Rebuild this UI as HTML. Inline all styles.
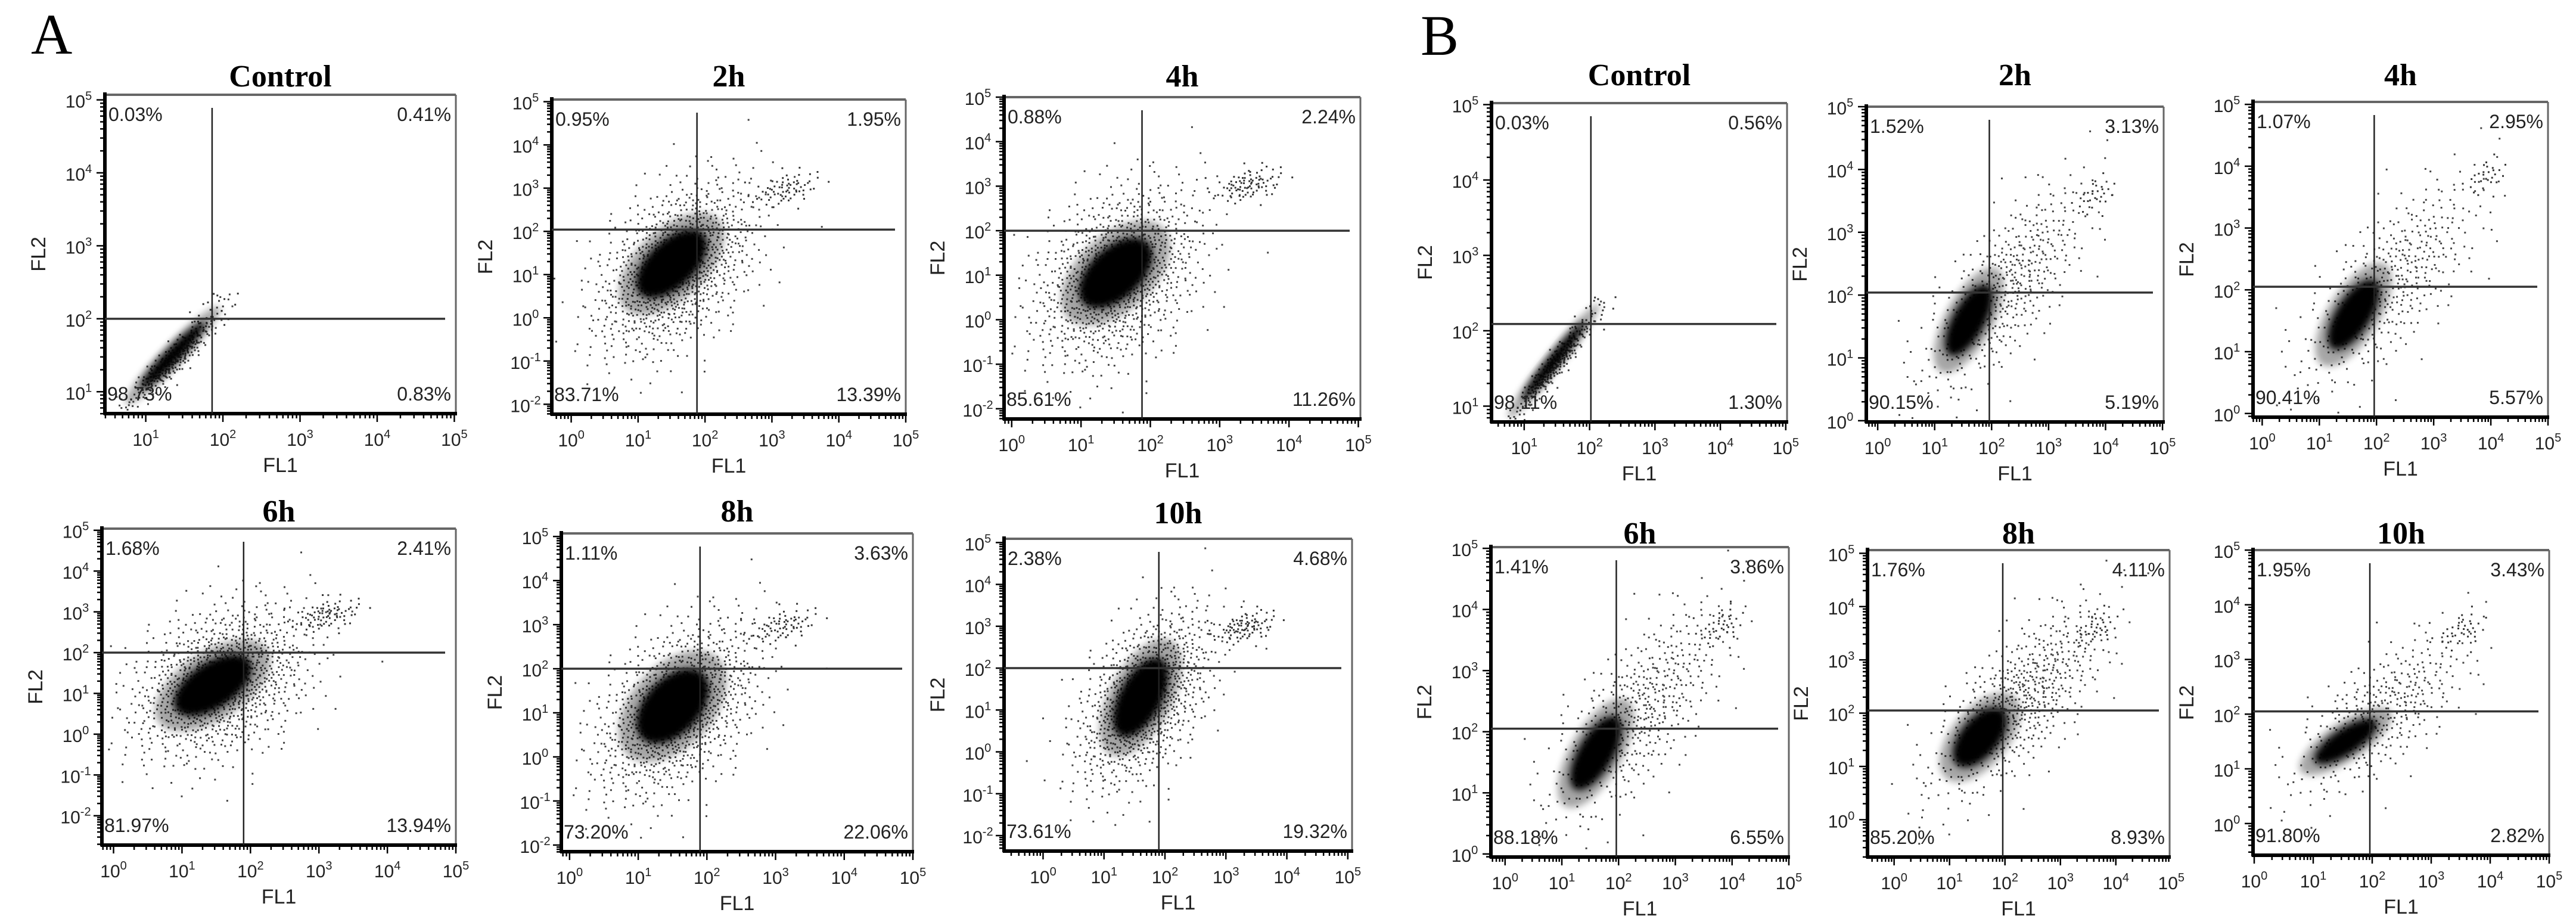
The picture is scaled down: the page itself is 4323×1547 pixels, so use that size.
<!DOCTYPE html>
<html><head><meta charset="utf-8"><title>Flow cytometry panels</title>
<style>
html,body{margin:0;padding:0;background:#fff;}
svg{display:block;}
.tk{font-family:"Liberation Sans",sans-serif;font-size:30px;fill:#222;}
.pct{font-family:"Liberation Sans",sans-serif;font-size:32px;fill:#222;}
.ax{font-family:"Liberation Sans",sans-serif;font-size:34px;fill:#222;}
.ttl{font-family:"Liberation Serif",serif;font-weight:bold;font-size:52px;fill:#000;}
</style></head>
<body>
<svg id="fig" width="4323" height="1547" viewBox="0 0 4323 1547" xmlns="http://www.w3.org/2000/svg">
<defs><filter id="blur" x="-50%" y="-50%" width="200%" height="200%"><feGaussianBlur stdDeviation="6"/></filter></defs>
<text x="52" y="90" font-family="Liberation Serif,serif" font-size="96">A</text>
<text x="2384" y="92" font-family="Liberation Serif,serif" font-size="96">B</text>
</svg>
<script>
// ---- data ----
const plotTitles = ["Control","2h","4h","6h","8h","10h","Control","2h","4h","6h","8h","10h"];
const pctUL = ["0.03%","0.95%","0.88%","1.68%","1.11%","2.38%","0.03%","1.52%","1.07%","1.41%","1.76%","1.95%"];
const pctUR = ["0.41%","1.95%","2.24%","2.41%","3.63%","4.68%","0.56%","3.13%","2.95%","3.86%","4.11%","3.43%"];
const pctLL = ["98.73%","83.71%","85.61%","81.97%","73.20%","73.61%","98.11%","90.15%","90.41%","88.18%","85.20%","91.80%"];
const pctLR = ["0.83%","13.39%","11.26%","13.94%","22.06%","19.32%","1.30%","5.19%","5.57%","6.55%","8.93%","2.82%"];
// quadrant gate positions (log10 units)
const gateX = [1.86,1.88,1.88,1.9,1.9,1.9,2.02,1.96,1.96,1.96,1.96,1.96];
const gateY = [2.0,2.04,2.0,2.0,2.0,2.0,2.09,2.04,2.05,2.05,2.05,2.05];
// core populations: [cx, cy, sx, sy, rho]  (log10 units)
const coreCx = [1.35,1.5,1.5,1.45,1.5,1.6,1.45,1.6,1.6,1.6,1.55,1.55];
const coreCy = [1.5,1.25,1.05,1.2,1.15,1.3,1.6,1.6,1.6,1.65,1.55,1.5];
const coreSx = [0.22,0.28,0.28,0.3,0.28,0.24,0.25,0.22,0.24,0.24,0.26,0.28];
const coreSy = [0.24,0.42,0.42,0.4,0.45,0.5,0.27,0.3,0.3,0.32,0.3,0.22];
const coreRho = [0.95,0.55,0.5,0.55,0.45,0.55,0.97,0.65,0.65,0.65,0.55,0.75];
// diffuse scatter: [cx, cy, sx, sy, rho, count]
const diffCx = [1.35,1.55,1.5,1.55,1.55,1.65,1.45,2.2,2.2,2.3,2.2,2.1];
const diffCy = [1.45,1.2,1.0,1.3,1.1,1.3,1.55,2.1,2.1,2.3,2.2,2.0];
const diffSx = [0.3,0.6,0.6,0.65,0.6,0.55,0.3,0.75,0.8,0.8,0.8,0.75];
const diffSy = [0.32,1.0,1.0,0.95,1.0,1.05,0.33,0.85,0.85,0.9,0.9,0.75];
const diffRho = [0.93,0.45,0.35,0.35,0.45,0.5,0.95,0.75,0.72,0.72,0.72,0.7];
const diffN = [300,1100,1100,1100,1100,1000,280,500,450,520,620,400];
// late apoptotic sub-cluster: [cx, cy, spread, count]
const lateCx = [1.9,3.2,3.4,3.1,3.1,3.3,2.1,3.8,3.9,3.8,3.6,3.5];
const lateCy = [2.2,3.0,3.05,2.95,3.0,3.0,2.3,3.6,3.85,3.75,3.6,3.55];
const lateS = [0.15,0.25,0.25,0.25,0.25,0.25,0.15,0.18,0.18,0.2,0.22,0.22];
const lateN = [15,70,90,80,70,90,15,30,30,40,40,40];

// ---- layout ----
const boxes = [[176,159,765,694],[926,167,1520,695],[1685,163,2283,703],[171,887,765,1418],[942,895,1532,1429],[1685,904,2269,1428],
  [2503,173,2999,708],[3132,179,3631,708],[3781,171,4276,700],[2502,918,3002,1438],[3134,923,3641,1438],[3781,923,4278,1435]];
const xDom = [[0.47,5.02],[-0.29,5.0],[-0.11,5.03],[-0.17,5.0],[-0.12,5.0],[-0.64,5.07],[0.5,5.02],[-0.2,5.02],[-0.16,5.0],[-0.25,5.0],[-0.48,4.97],[-0.02,5.0]];
const yDom = [[0.7,5.07],[-2.23,5.05],[-2.23,5.0],[-2.72,5.04],[-2.15,5.07],[-2.37,5.09],[0.79,5.02],[-0.02,5.0],[-0.06,5.04],[-0.05,5.02],[-0.7,5.06],[-0.58,5.0]];
const titleY = [145,145,145,875,875,878,143,143,143,912,912,912];

const svg = document.getElementById('fig');
const NS = "http://www.w3.org/2000/svg";
function mk(tag, attrs, parent){const e=document.createElementNS(NS,tag);for(const k in attrs)e.setAttribute(k,attrs[k]);(parent||svg).appendChild(e);return e;}
function halton(i,b){let f=1,r=0;while(i>0){f/=b;r+=f*(i%b);i=Math.floor(i/b);}return r;}

for(let p=0;p<12;p++){
  const [x0,y0,x1,y1]=boxes[p];
  const [xl,xh]=xDom[p],[yl,yh]=yDom[p];
  const kx=(x1-x0)/(xh-xl), ky=(y1-y0)/(yh-yl);
  const X=v=>x0+(v-xl)*kx, Y=v=>y1-(v-yl)*ky;
  const g=mk('g',{});
  
  
  const clip='clip'+p;
  const cp=mk('clipPath',{id:clip},g);mk('rect',{x:x0,y:y0,width:x1-x0,height:y1-y0},cp);
  const dataG=mk('g',{'clip-path':'url(#'+clip+')'},g);
  
  
  function dots(cx,cy,sx,sy,rho,n,off,fill){
    for(let i=1;i<=n;i++){
      const u=Math.max(halton(i+off,2),1e-4),v=halton(i+off,3);
      const r=Math.sqrt(-2*Math.log(u)),z1=r*Math.cos(2*Math.PI*v),z2=r*Math.sin(2*Math.PI*v);
      const lx=cx+sx*z1, ly=cy+sy*(rho*z1+Math.sqrt(1-rho*rho)*z2);
      const d=mk('rect',{x:X(lx).toFixed(1),y:Y(ly).toFixed(1),width:3,height:3,fill:fill},dataG);
      
      
    }
  }
  dots(diffCx[p],diffCy[p],diffSx[p],diffSy[p],diffRho[p],diffN[p],7,'#444');
  dots(lateCx[p],lateCy[p],lateS[p],lateS[p]*0.8,0.4,lateN[p],31,'#333');
  function ell(cx,cy,sx,sy,rho,k,fill,op,blur){
    const a=sx*sx*kx*kx,b=sy*sy*ky*ky,c=-rho*sx*sy*kx*ky;
    const th=0.5*Math.atan2(2*c,a-b);
    const m=(a+b)/2,d=Math.sqrt(((a-b)/2)**2+c*c);
    const e=mk('ellipse',{cx:0,cy:0,rx:(Math.sqrt(m+d)*k).toFixed(1),ry:(Math.sqrt(Math.max(m-d,1))*k).toFixed(1),fill:fill,opacity:op,
      transform:`translate(${X(cx).toFixed(1)},${Y(cy).toFixed(1)}) rotate(${(th*180/Math.PI).toFixed(1)})`},dataG);
    if(blur)e.setAttribute('filter','url(#blur)');
    return e;
  }
  const halo=ell(coreCx[p],coreCy[p],coreSx[p],coreSy[p],coreRho[p],2.8,'#000',0.35,true);
  
  
  const core=ell(coreCx[p],coreCy[p],coreSx[p],coreSy[p],coreRho[p],1.9,'#000',1,true);
  
  
  mk('line',{x1:x0,y1:y0,x2:x1,y2:y0,stroke:'#666','stroke-width':4},g);
  mk('line',{x1:x1,y1:y0,x2:x1,y2:y1,stroke:'#666','stroke-width':3},g);
  const la=mk('line',{x1:x0,y1:y0-4,x2:x0,y2:y1+2,stroke:'#000','stroke-width':6},g);
  
  
  const ba=mk('line',{x1:x0-2,y1:y1,x2:x1+2,y2:y1,stroke:'#000','stroke-width':6},g);
  
  
  const gv=mk('line',{x1:X(gateX[p]),y1:y0+22,x2:X(gateX[p]),y2:y1,stroke:'#222','stroke-width':2.5},g);
  
  
  const gh=mk('line',{x1:x0,y1:Y(gateY[p]),x2:x1-18,y2:Y(gateY[p]),stroke:'#333','stroke-width':3.5},g);
  
  
  for(let dcd=Math.floor(xl);dcd<=Math.ceil(xh);dcd++){
    for(let m=1;m<10;m++){const v=dcd+Math.log10(m);if(v<xl-0.01||v>xh+0.01)continue;
      mk('line',{x1:X(v),y1:y1,x2:X(v),y2:y1+(m==1?14:8),stroke:'#000','stroke-width':2.5},g);}
    if(dcd>=xl-0.05&&dcd<=xh+0.05){
      const t=mk('text',{x:X(dcd),y:y1+54,'text-anchor':'middle',class:'tk'},g);
      
      
      t.innerHTML='10<tspan dy="-13" font-size="20">'+dcd+'</tspan>';
    }
  }
  for(let dcd=Math.floor(yl);dcd<=Math.ceil(yh);dcd++){
    for(let m=1;m<10;m++){const v=dcd+Math.log10(m);if(v<yl-0.01||v>yh+0.01)continue;
      mk('line',{x1:x0,y1:Y(v),x2:x0-(m==1?14:8),y2:Y(v),stroke:'#000','stroke-width':2.5},g);}
    if(dcd>=yl-0.05&&dcd<=yh+0.05){
      const t=mk('text',{x:x0-44,y:Y(dcd)+13,'text-anchor':'middle',class:'tk'},g);
      
      
      t.innerHTML='10<tspan dy="-13" font-size="20">'+dcd+'</tspan>';
    }
  }
  const pl=[[pctUL[p],x0+6,y0+44,'start','pct-upper-left'],[pctUR[p],x1-8,y0+44,'end','pct-upper-right'],
            [pctLL[p],x0+4,y1-22,'start','pct-lower-left'],[pctLR[p],x1-8,y1-22,'end','pct-lower-right']];
  for(const [s,x,y,a,n] of pl){
    const t=mk('text',{x:x,y:y,'text-anchor':a,class:'pct'},g);t.textContent=s;
    
    
  }
  const tt=mk('text',{x:(x0+x1)/2,y:titleY[p],'text-anchor':'middle',class:'ttl'},g);tt.textContent=plotTitles[p];
  
  
  const f1=mk('text',{x:(x0+x1)/2,y:y1+98,'text-anchor':'middle',class:'ax'},g);f1.textContent='FL1';
  
  
  const fx=x0-100,fy=(y0+y1)/2;
  const f2=mk('text',{x:fx,y:fy,'text-anchor':'middle',class:'ax',transform:`rotate(-90 ${fx} ${fy})`},g);f2.textContent='FL2';
  
  
}
</script>
</body></html>
